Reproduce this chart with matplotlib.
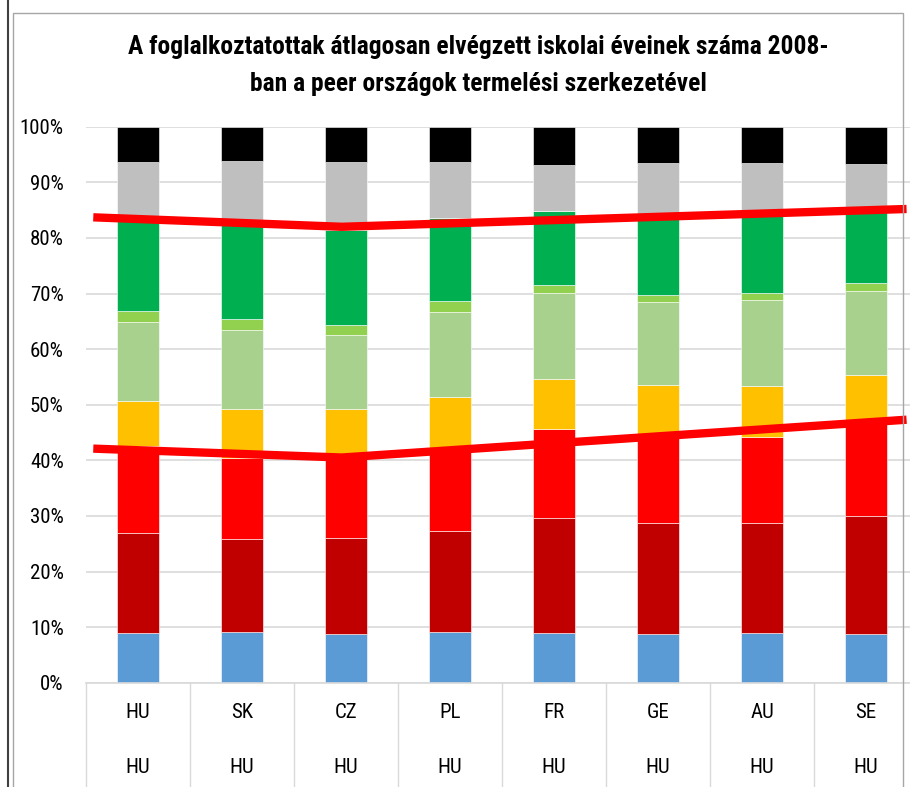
import numpy as np
import matplotlib
matplotlib.use("Agg")
import matplotlib.pyplot as plt
from matplotlib.ticker import FuncFormatter, FixedLocator
from matplotlib.patches import Rectangle
from matplotlib.lines import Line2D

plt.rcParams['font.family'] = ['Liberation Sans Narrow', 'DejaVu Sans Condensed',
                               'Roboto Condensed', 'Lato', 'DejaVu Sans']

countries = ["HU", "SK", "CZ", "PL", "FR", "GE", "AU", "SE"]
structure = ["HU"] * 8

# stacked shares in percent, bottom to top
blue = [8.9, 9.1, 8.8, 9.1, 8.9, 8.8, 8.9, 8.8]
darkred = [18.0, 16.8, 17.2, 18.1, 20.7, 19.9, 19.8, 21.1]
red = [15.6, 14.6, 14.5, 14.8, 16.0, 15.6, 15.5, 17.1]
yellow = [8.1, 8.8, 8.8, 9.3, 9.1, 9.3, 9.2, 8.4]
pale = [14.3, 14.1, 13.2, 15.3, 15.4, 14.9, 15.4, 15.1]
lightgreen = [1.9, 2.1, 1.8, 2.1, 1.4, 1.3, 1.3, 1.4]
green = [16.2, 17.0, 17.2, 14.9, 13.4, 13.9, 14.3, 13.3]
gray = [10.7, 11.3, 12.1, 10.1, 8.3, 9.8, 9.1, 8.1]
black = [6.3, 6.2, 6.4, 6.3, 6.8, 6.5, 6.5, 6.7]

# the two hand drawn red lines (x in category units, y in percent)
line_x = [-0.43, 1.96, 7.39]
upper_y = [83.7, 82.0, 85.2]
lower_y = [42.1, 40.5, 47.3]

series = [blue, darkred, red, yellow, pale, lightgreen, green, gray, black]
colors = ["#5B9BD5", "#C00000", "#FF0000", "#FFC000", "#A9D18E",
          "#92D050", "#00B050", "#BFBFBF", "#000000"]

fig = plt.figure(figsize=(9.1, 7.87), dpi=100)
ax = fig.add_axes([86/910, (787-682.7)/787, 832/910, 556/787])

x = np.arange(len(countries))
bottom = np.zeros(len(countries))
for vals, c in zip(series, colors):
    ax.bar(x, vals, 0.4, bottom=bottom, color=c, edgecolor="white", linewidth=0.4, zorder=2)
    bottom += np.array(vals)

ax.plot(line_x, upper_y, color="#FF0000", lw=6, solid_capstyle="butt", zorder=3)
ax.plot(line_x, lower_y, color="#FF0000", lw=6, solid_capstyle="butt", zorder=3)

ax.set_xlim(-0.5, 7.5)
ax.set_ylim(0, 100)
ax.yaxis.set_major_locator(FixedLocator(np.arange(0, 101, 10)))
ax.yaxis.set_major_formatter(FuncFormatter(lambda v, p: f"{int(v)}%"))
ax.grid(axis="y", color="#D9D9D9", lw=1.2, zorder=0)
ax.set_axisbelow(True)
for s in ["left", "right", "top"]:
    ax.spines[s].set_visible(False)
ax.spines["bottom"].set_color("#D9D9D9")
ax.spines["bottom"].set_linewidth(1.2)
ax.tick_params(axis="y", length=0, pad=16, labelsize=15)
ax.set_xticks([])

# category separators and two-level labels
for b in np.arange(-0.5, 8.0, 1.0):
    ax.add_line(Line2D([b, b], [0, -19], color="#D9D9D9", lw=1.0, clip_on=False))
for i in range(len(countries)):
    ax.text(i, -5.3, countries[i], ha="center", va="center", fontsize=15, clip_on=False)
    ax.text(i, -15.3, structure[i], ha="center", va="center", fontsize=15, clip_on=False)

fig.text(478/910, 1 - 47/787, "A foglalkoztatottak átlagosan elvégzett iskolai éveinek száma 2008-",
         ha="center", va="center", fontsize=18.4, fontweight="bold")
fig.text(478/910, 1 - 84/787, "ban a peer országok termelési szerkezetével",
         ha="center", va="center", fontsize=18.4, fontweight="bold")

# chart frame
fig.add_artist(Line2D([8/910, 8/910], [0, 1], color="#404040", lw=1.5))
fig.add_artist(Rectangle((13/910, -0.05), 890/910, 1.05 - 13/787, fill=False,
                         edgecolor="#A6A6A6", lw=1.0))

fig.savefig("out.png", dpi=100)
